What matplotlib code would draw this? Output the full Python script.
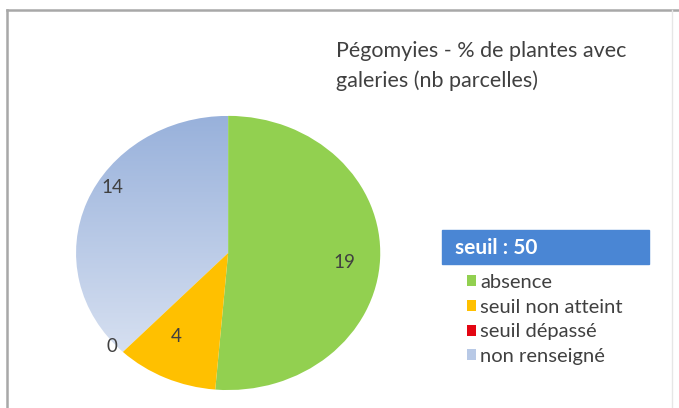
import matplotlib.pyplot as plt
import numpy as np
from matplotlib.colors import LinearSegmentedColormap
from matplotlib.patches import Patch, Rectangle
from matplotlib.lines import Line2D

plt.rcParams['font.family'] = ['Lato', 'DejaVu Sans']

categories = ['absence', 'seuil non atteint', 'seuil dépassé', 'non renseigné']
counts = [19, 4, 0, 14]
colors = ['#92d050', '#ffc000', '#e30613', '#b8c9e6']
title = 'Pégomyies - % de plantes avec\ngaleries (nb parcelles)'
seuil = 'seuil : 50'
# where excel put each data label (fraction of radius, angle shift in deg)
label_dist = [0.77, 0.70, 1.02, 0.9]
label_shift = [-2.5, -5, -4.5, -10]
text_col = '#404040'

fig = plt.figure(figsize=(6.79, 4.08), dpi=100)

# pie axes, squashed a bit so the pie is an ellipse like the original
ax = fig.add_axes([0.112, 0.044, 0.448, 0.672])
wedges, _ = ax.pie(counts, colors=colors, startangle=90, counterclock=False,
                   radius=1.0, wedgeprops=dict(linewidth=0))
ax.set_aspect('auto')
ax.set_xlim(-1, 1)
ax.set_ylim(-1, 1)
ax.axis('off')

# gradient fill for the "non renseigné" slice
blue = wedges[3]
blue.set_facecolor('none')
cmap = LinearSegmentedColormap.from_list('bl', ['#e0e7f4', '#98b1db'])
grad = np.linspace(0, 1, 256).reshape(-1, 1)
im = ax.imshow(grad, extent=[-1, 1, -1, 1], origin='lower', cmap=cmap,
               aspect='auto', zorder=0.5)
im.set_clip_path(blue)

for w, n, d, s in zip(wedges, counts, label_dist, label_shift):
    ang = np.deg2rad((w.theta1 + w.theta2) / 2 + s)
    ax.text(d * np.cos(ang), d * np.sin(ang), str(n), ha='center', va='center',
            fontsize=13.5, color=text_col)

fig.text(0.495, 1 - 66 / 408, title, fontsize=15.5, color=text_col, va='center',
         linespacing=1.55)

# threshold box
fig.patches.append(Rectangle((442 / 679, 1 - 264 / 408), 207 / 679, 34 / 408,
                             transform=fig.transFigure, color='#4a86d4'))
fig.text(455 / 679, 1 - 248 / 408, seuil, fontsize=15, color='white',
         fontweight='bold', va='center')

handles = [Patch(facecolor=c, edgecolor='none') for c in colors]
fig.legend(handles, categories, loc='upper left', bbox_to_anchor=(0.676, 1 - 266 / 408),
           frameon=False, fontsize=14.5, handlelength=0.45, handleheight=0.45,
           handletextpad=0.2, labelspacing=0.38, labelcolor=text_col,
           borderaxespad=0)

# outer frame of the original chart
fig.lines.append(Line2D([7 / 679, 7 / 679], [0, 1 - 10 / 408], transform=fig.transFigure,
                        color='#a8a8a8', lw=1.8))
fig.lines.append(Line2D([7 / 679, 1], [1 - 10 / 408, 1 - 10 / 408], transform=fig.transFigure,
                        color='#a8a8a8', lw=1.8))
fig.lines.append(Line2D([672 / 679, 672 / 679], [0, 1 - 10 / 408], transform=fig.transFigure,
                        color='#e6e6e6', lw=1))

fig.savefig('out.png', dpi=100)
